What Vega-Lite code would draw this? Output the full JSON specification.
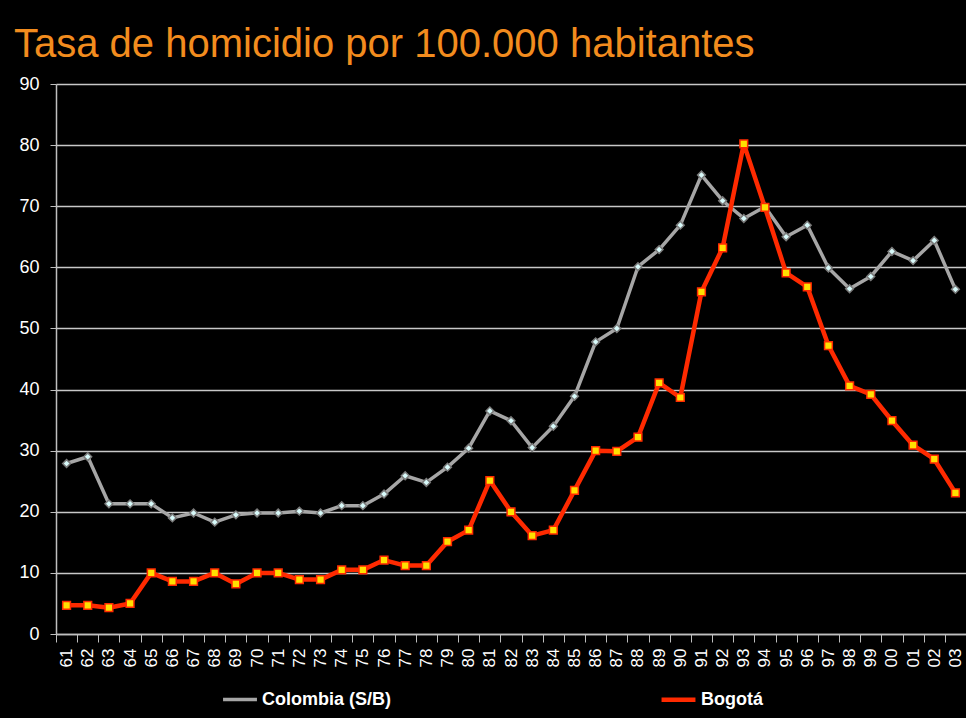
{
  "$schema": "https://vega.github.io/schema/vega-lite/v6.json",
  "autosize": {"type": "none"},
  "width": 910,
  "height": 550,
  "padding": {"left": 56, "top": 84, "right": 0, "bottom": 84},
  "background": "#000000",
  "title": {
    "text": "Tasa de homicidio por 100.000 habitantes",
    "anchor": "start",
    "font": "Liberation Sans",
    "fontSize": 40,
    "fontWeight": "normal",
    "color": "#F28C1E",
    "baseline": "alphabetic",
    "offset": -22,
    "dx": -5
  },
  "config": {
    "view": {"stroke": null, "fill": "#000000"},
    "font": "Liberation Sans"
  },
  "data": {
    "values": [
      {"year": "61", "serie": "Colombia (S/B)", "tasa": 27.9},
      {"year": "62", "serie": "Colombia (S/B)", "tasa": 29.0},
      {"year": "63", "serie": "Colombia (S/B)", "tasa": 21.3},
      {"year": "64", "serie": "Colombia (S/B)", "tasa": 21.3},
      {"year": "65", "serie": "Colombia (S/B)", "tasa": 21.3},
      {"year": "66", "serie": "Colombia (S/B)", "tasa": 19.0},
      {"year": "67", "serie": "Colombia (S/B)", "tasa": 19.8},
      {"year": "68", "serie": "Colombia (S/B)", "tasa": 18.3},
      {"year": "69", "serie": "Colombia (S/B)", "tasa": 19.5},
      {"year": "70", "serie": "Colombia (S/B)", "tasa": 19.8},
      {"year": "71", "serie": "Colombia (S/B)", "tasa": 19.8},
      {"year": "72", "serie": "Colombia (S/B)", "tasa": 20.1},
      {"year": "73", "serie": "Colombia (S/B)", "tasa": 19.8},
      {"year": "74", "serie": "Colombia (S/B)", "tasa": 21.0},
      {"year": "75", "serie": "Colombia (S/B)", "tasa": 21.0},
      {"year": "76", "serie": "Colombia (S/B)", "tasa": 22.9},
      {"year": "77", "serie": "Colombia (S/B)", "tasa": 25.9},
      {"year": "78", "serie": "Colombia (S/B)", "tasa": 24.8},
      {"year": "79", "serie": "Colombia (S/B)", "tasa": 27.3},
      {"year": "80", "serie": "Colombia (S/B)", "tasa": 30.4},
      {"year": "81", "serie": "Colombia (S/B)", "tasa": 36.5},
      {"year": "82", "serie": "Colombia (S/B)", "tasa": 34.9},
      {"year": "83", "serie": "Colombia (S/B)", "tasa": 30.5},
      {"year": "84", "serie": "Colombia (S/B)", "tasa": 34.0},
      {"year": "85", "serie": "Colombia (S/B)", "tasa": 38.9},
      {"year": "86", "serie": "Colombia (S/B)", "tasa": 47.8},
      {"year": "87", "serie": "Colombia (S/B)", "tasa": 50.0},
      {"year": "88", "serie": "Colombia (S/B)", "tasa": 60.1},
      {"year": "89", "serie": "Colombia (S/B)", "tasa": 62.9},
      {"year": "90", "serie": "Colombia (S/B)", "tasa": 66.9},
      {"year": "91", "serie": "Colombia (S/B)", "tasa": 75.1},
      {"year": "92", "serie": "Colombia (S/B)", "tasa": 70.9},
      {"year": "93", "serie": "Colombia (S/B)", "tasa": 68.0},
      {"year": "94", "serie": "Colombia (S/B)", "tasa": 69.9},
      {"year": "95", "serie": "Colombia (S/B)", "tasa": 65.0},
      {"year": "96", "serie": "Colombia (S/B)", "tasa": 66.9},
      {"year": "97", "serie": "Colombia (S/B)", "tasa": 59.9},
      {"year": "98", "serie": "Colombia (S/B)", "tasa": 56.5},
      {"year": "99", "serie": "Colombia (S/B)", "tasa": 58.5},
      {"year": "00", "serie": "Colombia (S/B)", "tasa": 62.6},
      {"year": "01", "serie": "Colombia (S/B)", "tasa": 61.1},
      {"year": "02", "serie": "Colombia (S/B)", "tasa": 64.4},
      {"year": "03", "serie": "Colombia (S/B)", "tasa": 56.4},
      {"year": "61", "serie": "Bogotá", "tasa": 4.7},
      {"year": "62", "serie": "Bogotá", "tasa": 4.7},
      {"year": "63", "serie": "Bogotá", "tasa": 4.3},
      {"year": "64", "serie": "Bogotá", "tasa": 5.0},
      {"year": "65", "serie": "Bogotá", "tasa": 10.0},
      {"year": "66", "serie": "Bogotá", "tasa": 8.6},
      {"year": "67", "serie": "Bogotá", "tasa": 8.6},
      {"year": "68", "serie": "Bogotá", "tasa": 10.0},
      {"year": "69", "serie": "Bogotá", "tasa": 8.2},
      {"year": "70", "serie": "Bogotá", "tasa": 10.0},
      {"year": "71", "serie": "Bogotá", "tasa": 10.0},
      {"year": "72", "serie": "Bogotá", "tasa": 8.9},
      {"year": "73", "serie": "Bogotá", "tasa": 8.9},
      {"year": "74", "serie": "Bogotá", "tasa": 10.5},
      {"year": "75", "serie": "Bogotá", "tasa": 10.5},
      {"year": "76", "serie": "Bogotá", "tasa": 12.1},
      {"year": "77", "serie": "Bogotá", "tasa": 11.2},
      {"year": "78", "serie": "Bogotá", "tasa": 11.2},
      {"year": "79", "serie": "Bogotá", "tasa": 15.1},
      {"year": "80", "serie": "Bogotá", "tasa": 17.0},
      {"year": "81", "serie": "Bogotá", "tasa": 25.1},
      {"year": "82", "serie": "Bogotá", "tasa": 20.0},
      {"year": "83", "serie": "Bogotá", "tasa": 16.1},
      {"year": "84", "serie": "Bogotá", "tasa": 17.0},
      {"year": "85", "serie": "Bogotá", "tasa": 23.5},
      {"year": "86", "serie": "Bogotá", "tasa": 30.0},
      {"year": "87", "serie": "Bogotá", "tasa": 29.9},
      {"year": "88", "serie": "Bogotá", "tasa": 32.2},
      {"year": "89", "serie": "Bogotá", "tasa": 41.1},
      {"year": "90", "serie": "Bogotá", "tasa": 38.7},
      {"year": "91", "serie": "Bogotá", "tasa": 56.0},
      {"year": "92", "serie": "Bogotá", "tasa": 63.2},
      {"year": "93", "serie": "Bogotá", "tasa": 80.2},
      {"year": "94", "serie": "Bogotá", "tasa": 69.8},
      {"year": "95", "serie": "Bogotá", "tasa": 59.1},
      {"year": "96", "serie": "Bogotá", "tasa": 56.8},
      {"year": "97", "serie": "Bogotá", "tasa": 47.2},
      {"year": "98", "serie": "Bogotá", "tasa": 40.6},
      {"year": "99", "serie": "Bogotá", "tasa": 39.2},
      {"year": "00", "serie": "Bogotá", "tasa": 34.9},
      {"year": "01", "serie": "Bogotá", "tasa": 30.9},
      {"year": "02", "serie": "Bogotá", "tasa": 28.6},
      {"year": "03", "serie": "Bogotá", "tasa": 23.1}
    ]
  },
  "encoding": {
    "x": {
      "field": "year",
      "type": "ordinal",
      "sort": null,
      "scale": {"type": "band", "paddingInner": 0, "paddingOuter": 0},
      "axis": {
        "title": null,
        "tickBand": "extent",
        "labelAngle": 270,
        "labelColor": "#FFFFFF",
        "labelFont": "Liberation Sans",
        "labelFontSize": 17,
        "labelPadding": 6,
        "tickColor": "#BFBFBF",
        "tickSize": 8,
        "domainColor": "#BFBFBF",
        "domainWidth": 1.5,
        "grid": false
      }
    },
    "y": {
      "field": "tasa",
      "type": "quantitative",
      "scale": {"domain": [0, 90], "nice": false},
      "axis": {
        "title": null,
        "values": [0, 10, 20, 30, 40, 50, 60, 70, 80, 90],
        "labelColor": "#FFFFFF",
        "labelFont": "Liberation Sans",
        "labelFontSize": 18,
        "labelPadding": 11,
        "tickColor": "#BFBFBF",
        "tickSize": 6,
        "domainColor": "#BFBFBF",
        "domainWidth": 1.5,
        "grid": true,
        "gridColor": "#C8C8C8",
        "gridWidth": 1.5
      }
    }
  },
  "layer": [
    {
      "mark": {"type": "line", "strokeJoin": "round"},
      "encoding": {
        "stroke": {
          "field": "serie",
          "type": "nominal",
          "sort": null,
          "scale": {"domain": ["Colombia (S/B)", "Bogotá"], "range": ["#A6A6A6", "#FF2A00"]},
          "legend": {
            "title": null,
            "orient": "none",
            "legendX": 165,
            "legendY": 596,
            "direction": "horizontal",
            "columnPadding": 261,
            "symbolType": "stroke",
            "symbolSize": 1150,
            "symbolStrokeWidth": 5,
            "labelColor": "#FFFFFF",
            "labelFont": "Liberation Sans",
            "labelFontSize": 18,
            "labelFontWeight": "bold",
            "labelOffset": 3,
            "labelLimit": 400
          }
        },
        "strokeWidth": {
          "field": "serie",
          "type": "nominal",
          "scale": {"domain": ["Colombia (S/B)", "Bogotá"], "range": [3.5, 4.5]},
          "legend": null
        }
      }
    },
    {
      "mark": {"type": "point", "filled": true, "strokeWidth": 1.5, "opacity": 1, "size": 60},
      "encoding": {
        "shape": {
          "condition": {"test": "datum.serie === 'Bogotá'", "value": "square"},
          "value": "diamond"
        },
        "fill": {
          "condition": {"test": "datum.serie === 'Bogotá'", "value": "#FFE000"},
          "value": "#D8FAFA"
        },
        "stroke": {
          "condition": {"test": "datum.serie === 'Bogotá'", "value": "#FF2A00"},
          "value": "#7A7A7A"
        }
      }
    }
  ]
}
